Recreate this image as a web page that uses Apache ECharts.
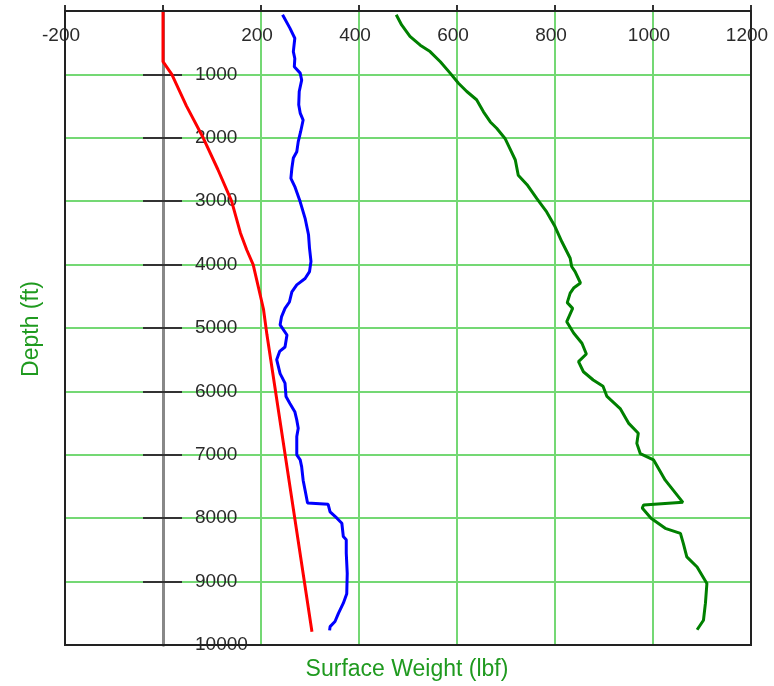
<!DOCTYPE html>
<html>
<head>
<meta charset="utf-8">
<title>Surface Weight vs Depth</title>
<script src="https://cdn.jsdelivr.net/npm/echarts@6/dist/echarts.min.js"></script>
<style>
  html, body { margin: 0; padding: 0; background: #fff; }
  #main { width: 774px; height: 686px; }
</style>
</head>
<body>
<div id="main"></div>
<script>
// depth (ft) / surface weight (lbf)
const redDepth = [0, 800, 1000, 1500, 2000, 2500, 3000, 3500, 3770, 4000, 4700, 5100, 9790];
const redWeight = [0, 0, 18, 48, 82, 112, 140, 158, 171, 184, 205, 212, 304];

const blueDepth = [60, 270, 430, 640, 750, 880, 980, 1090, 1270, 1480, 1610, 1720, 1900, 2060, 2220, 2320, 2480, 2640, 2770, 3010,
  3270, 3530, 3740, 3950, 4110, 4220, 4320, 4430, 4590, 4690, 4820, 4950, 5110, 5300, 5370, 5500, 5720, 5870, 6080, 6190,
  6320, 6450, 6580, 6710, 7000, 7080, 7190, 7400, 7560, 7760, 7780, 7900, 8000, 8080, 8290, 8340, 8550, 8870, 9190, 9340,
  9500, 9630, 9710, 9770];
const blueWeight = [244, 259, 269, 266, 269, 268, 280, 283, 278, 277, 280, 286, 281, 276, 273, 266, 263, 261, 269, 280,
  290, 297, 299, 302, 299, 290, 273, 263, 258, 249, 242, 239, 253, 249, 238, 232, 239, 249, 251, 259,
  269, 273, 276, 273, 273, 280, 283, 286, 290, 295, 337, 341, 355, 365, 368, 374, 374, 376, 375, 368,
  358, 351, 341, 340];

const greenDepth = [60, 220, 400, 540, 640, 800, 980, 1140, 1270, 1400, 1590, 1750, 1850, 2010, 2170, 2350, 2590, 2740, 2960, 3170,
  3400, 3640, 3900, 4030, 4110, 4290, 4370, 4450, 4600, 4690, 4900, 5080, 5240, 5410, 5530, 5690, 5820, 5920, 6080, 6270,
  6500, 6660, 6820, 6980, 7080, 7400, 7750, 7790, 7840, 8000, 8160, 8240, 8400, 8610, 8770, 9030, 9340, 9610, 9760];
const greenWeight = [476, 487, 504, 525, 545, 566, 586, 603, 620, 640, 654, 668, 681, 698, 708, 719, 725, 743, 763, 783,
  800, 814, 831, 834, 841, 852, 838, 831, 825, 836, 824, 838, 855, 864, 848, 858, 878, 898, 906, 933,
  950, 970, 967, 974, 1001, 1025, 1061, 981, 978, 996, 1025, 1056, 1062, 1069, 1090, 1110, 1107, 1103, 1090];

const pairs = (w, d) => w.map((v, i) => [v, d[i]]);

const chart = echarts.init(document.getElementById('main'));

const gridGreen = '#74d874';
const labelFont = { fontFamily: 'Liberation Sans, Arial, sans-serif', fontSize: 19, color: '#2a2a2a' };
// plot frame in px
const frame = { left: 65, top: 11, right: 23, bottom: 41 };

const depthAxis = {
  type: 'value',
  inverse: true,
  min: 0,
  max: 10000,
  interval: 1000
};

const option = {
  animation: false,
  grid: Object.assign({ show: false, containLabel: false }, frame),
  xAxis: {
    type: 'value',
    position: 'top',
    min: -200,
    max: 1200,
    interval: 200,
    axisLine: { show: true, onZero: false, lineStyle: { color: '#222', width: 2 } },
    axisTick: { show: true, inside: false, length: 6, lineStyle: { color: '#333', width: 2 } },
    axisLabel: Object.assign({
      inside: true, margin: 15, padding: [0, 8, 0, 0],
      formatter: v => (v === 0 ? '' : String(v))
    }, labelFont),
    splitLine: { show: true, lineStyle: { color: gridGreen, width: 2 } }
  },
  yAxis: [
    Object.assign({}, depthAxis, {
      position: 'left',
      axisLine: { show: true, onZero: true, onZeroAxisIndex: 0, lineStyle: { color: '#888', width: 3 } },
      axisTick: { show: true, inside: false, length: 20, lineStyle: { color: '#333', width: 2 } },
      axisLabel: Object.assign({
        inside: true, margin: 130, showMinLabel: false, showMaxLabel: true,
        formatter: v => (v === 0 ? '' : String(v))
      }, labelFont),
      splitLine: { show: true, lineStyle: { color: gridGreen, width: 2 } }
    }),
    Object.assign({}, depthAxis, {
      position: 'right',
      axisLine: { show: true, onZero: true, onZeroAxisIndex: 0, lineStyle: { color: '#888', width: 3 } },
      axisTick: { show: true, inside: false, length: 19, lineStyle: { color: '#333', width: 2 } },
      axisLabel: { show: false },
      splitLine: { show: false }
    })
  ],
  graphic: [
    {
      type: 'rect',
      z: 50,
      silent: true,
      shape: { x: frame.left, y: frame.top, width: 774 - frame.left - frame.right, height: 686 - frame.top - frame.bottom },
      style: { fill: null, stroke: '#222', lineWidth: 2 }
    },
    {
      type: 'text',
      x: 32,
      y: 329,
      rotation: Math.PI / 2,
      style: {
        text: 'Depth (ft)',
        x: 0,
        y: 0,
        align: 'center',
        verticalAlign: 'middle',
        fill: '#1f9a1f',
        font: '23px "Liberation Sans", Arial, sans-serif'
      }
    },
    {
      type: 'text',
      x: 407,
      y: 670,
      style: {
        text: 'Surface Weight (lbf)',
        x: 0,
        y: 0,
        align: 'center',
        verticalAlign: 'middle',
        fill: '#1f9a1f',
        font: '23px "Liberation Sans", Arial, sans-serif'
      }
    }
  ],
  series: [
    {
      name: 'red',
      type: 'line',
      data: pairs(redWeight, redDepth),
      showSymbol: false,
      lineStyle: { color: '#ff0000', width: 3 },
      z: 5
    },
    {
      name: 'blue',
      type: 'line',
      data: pairs(blueWeight, blueDepth),
      showSymbol: false,
      lineStyle: { color: '#0000ff', width: 3 },
      z: 5
    },
    {
      name: 'green',
      type: 'line',
      data: pairs(greenWeight, greenDepth),
      showSymbol: false,
      lineStyle: { color: '#008000', width: 3 },
      z: 5
    }
  ]
};

chart.setOption(option);
</script>
</body>
</html>
